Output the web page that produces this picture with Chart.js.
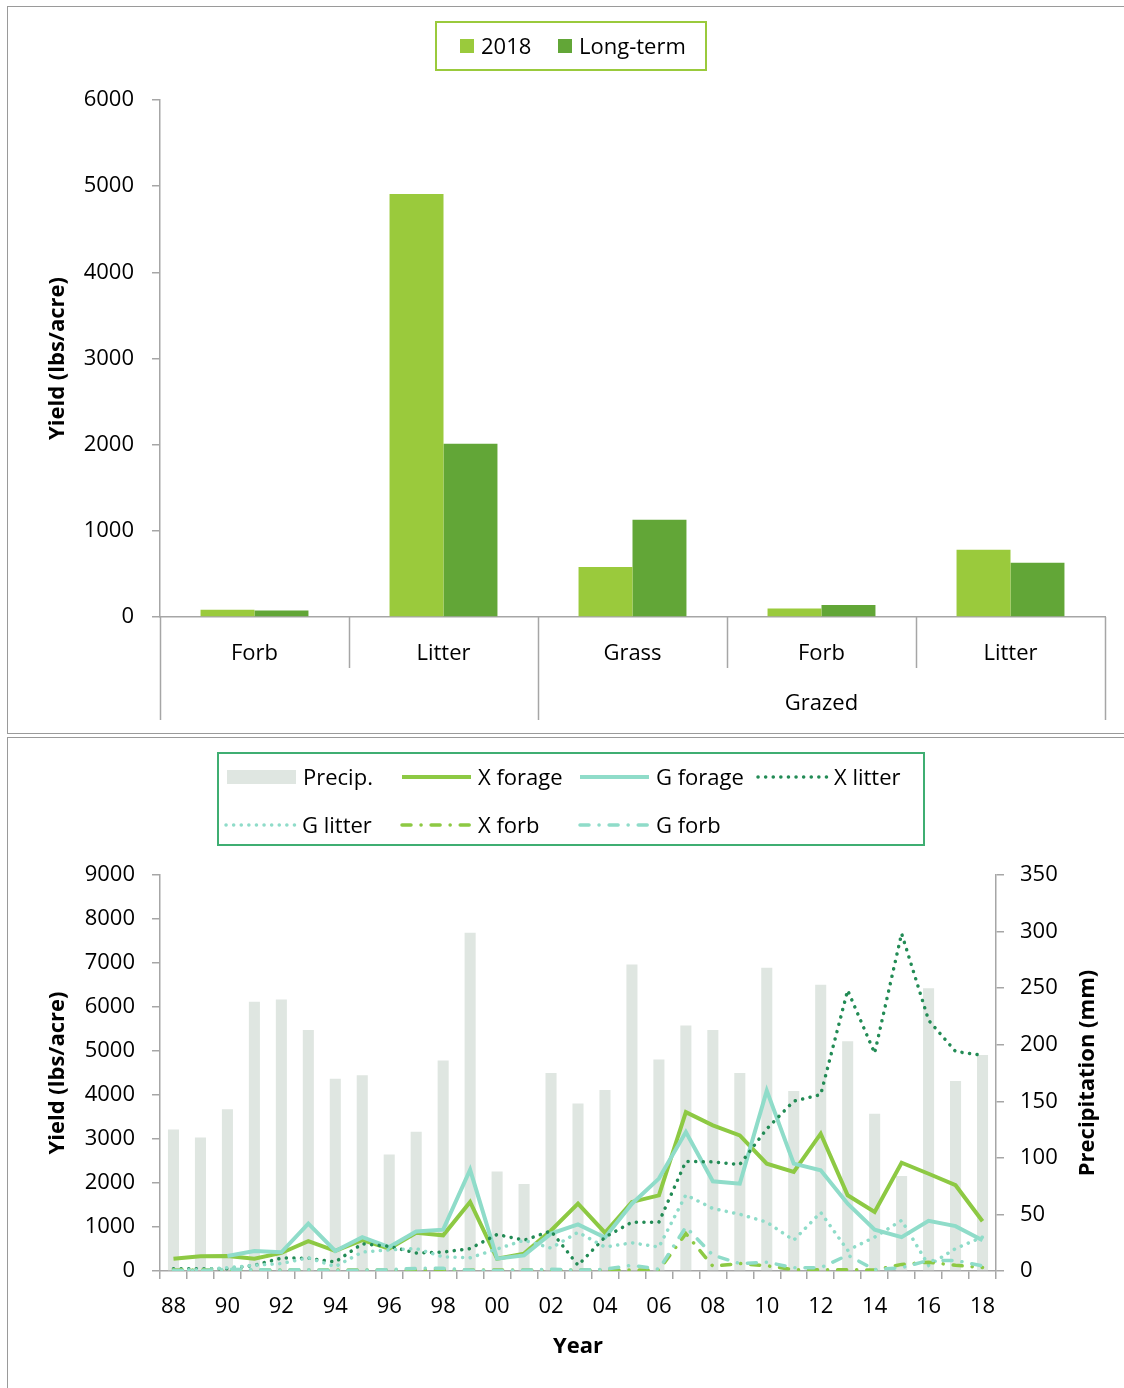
<!DOCTYPE html>
<html>
<head>
<meta charset="utf-8">
<script src="https://cdn.jsdelivr.net/npm/chart.js@4.4.0/dist/chart.umd.min.js"></script>
<style>
  body { margin: 0; background: #fff; width: 1124px; height: 1388px; overflow: hidden; position: relative; }
  canvas { position: absolute; left: 0; }
  #c1 { top: 0; }
  #c2 { top: 736px; }
  .frame { position: absolute; left: 7px; width: 1130px; border: 1px solid #9a9a9a; }
  #f1 { top: 6px; height: 726px; }
  #f2 { top: 737px; height: 700px; }
</style>
</head>
<body>
<div class="frame" id="f1"></div>
<div class="frame" id="f2"></div>
<canvas id="c1" width="1124" height="734"></canvas>
<canvas id="c2" width="1124" height="652"></canvas>
<script>
// top chart: yield by class
var categories = ['Forb', 'Litter', 'Grass', 'Forb', 'Litter'];
var groups = ['', '', 'Grazed', 'Grazed', 'Grazed'];
var yield2018 = [85, 4910, 580, 100, 780];
var yieldLongTerm = [75, 2010, 1130, 140, 630];

// bottom chart: yearly series
var years = ['88','89','90','91','92','93','94','95','96','97','98','99','00','01','02','03',
             '04','05','06','07','08','09','10','11','12','13','14','15','16','17','18'];
var precip = [125, 118, 143, 238, 240, 213, 170, 173, 103, 123, 186, 299, 88, 77, 175, 148,
              160, 271, 187, 217, 213, 175, 268, 159, 253, 203, 139, 84, 250, 168, 191];
var xForage = [280, 333, 340, 280, 410, 680, 455, 700, 510, 870, 810, 1570, 280, 395, 920, 1530,
               870, 1570, 1720, 3610, 3310, 3080, 2440, 2250, 3120, 1720, 1340, 2460, 2210, 1950, 1130];
var gForage = [null, null, 340, 455, 425, 1075, 455, 770, 545, 900, 940, 2300, 280, 355, 850, 1060,
               760, 1530, 2100, 3160, 2040, 1985, 4100, 2440, 2290, 1530, 940, 770, 1140, 1020, 700];
var xLitter = [50, 50, 50, 130, 295, 290, 205, 620, 560, 410, 430, 510, 830, 700, 910, 130,
               770, 1110, 1110, 2490, 2480, 2420, 3230, 3860, 4010, 6380, 4950, 7670, 5700, 4990, 4900];
var gLitter = [30, 30, 75, 130, 170, 300, 100, 430, 480, 510, 320, 300, 500, 700, 520, 880,
               545, 640, 545, 1730, 1420, 1290, 1110, 700, 1330, 470, 770, 1150, 130, 510, 770];
var xForb = [20, 20, 20, 20, 20, 20, 20, 20, 20, 20, 20, 20, 20, 20, 20, 20,
             20, 20, 20, 850, 110, 170, 120, 30, 30, 30, 20, 150, 200, 130, 80];
var gForb = [10, 10, 40, 30, 20, 30, 10, 20, 30, 60, 60, 20, 10, 20, 40, 20,
             40, 130, 40, 1000, 360, 170, 200, 75, 75, 360, 30, 75, 240, 240, 115];

Chart.defaults.font.family = "'Open Sans', sans-serif";
Chart.defaults.font.size = 22;
Chart.defaults.color = '#000';

var axisGrey = '#a6a6a6';
var plainNumber = function (v) { return String(v); };

// legend drawn inside a framed box, item slots given in options
var boxLegend = {
  id: 'boxLegend',
  afterDraw: function (chart, args, o) {
    var ctx = chart.ctx;
    ctx.save();
    ctx.strokeStyle = o.border;
    ctx.lineWidth = 2;
    ctx.strokeRect(o.x, o.y, o.w, o.h);
    ctx.font = "22px 'Open Sans', sans-serif";
    ctx.textBaseline = 'middle';
    ctx.fillStyle = '#000';
    chart.data.datasets.forEach(function (ds, i) {
      var s = o.slots[i];
      var isBar = (ds.type || chart.config.type) === 'bar';
      if (isBar) {
        ctx.fillStyle = ds.backgroundColor;
        ctx.fillRect(s[0], s[1] - o.sh / 2, o.sw, o.sh);
      } else {
        ctx.strokeStyle = ds.borderColor;
        ctx.lineWidth = ds.borderWidth;
        ctx.lineCap = ds.borderCapStyle || 'butt';
        ctx.setLineDash(ds.borderDash || []);
        ctx.beginPath();
        ctx.moveTo(s[0], s[1]);
        ctx.lineTo(s[0] + o.sw, s[1]);
        ctx.stroke();
        ctx.setLineDash([]);
      }
      ctx.fillStyle = '#000';
      ctx.fillText(ds.label, s[0] + o.sw + o.gap, s[1] + 2);
    });
    ctx.restore();
  }
};

// second level of the category axis (group separators and names)
var groupAxis = {
  id: 'groupAxis',
  afterDraw: function (chart, args, o) {
    if (!o.groups) return;
    var ctx = chart.ctx;
    var xs = chart.scales.x;
    var n = o.groups.length;
    var w = (xs.right - xs.left) / n;
    var base = chart.chartArea.bottom;
    ctx.save();
    ctx.strokeStyle = axisGrey;
    ctx.lineWidth = 1.5;
    for (var i = 0; i <= n; i++) {
      var x = Math.round(xs.left + i * w) + 0.5;
      var edge = i === 0 || i === n || o.groups[i] !== o.groups[i - 1];
      ctx.beginPath();
      ctx.moveTo(x, base);
      ctx.lineTo(x, edge ? o.longTo : o.shortTo);
      ctx.stroke();
    }
    ctx.font = "22px 'Open Sans', sans-serif";
    ctx.textAlign = 'center';
    ctx.textBaseline = 'middle';
    ctx.fillStyle = '#000';
    var start = 0;
    for (var j = 1; j <= n; j++) {
      if (j === n || o.groups[j] !== o.groups[start]) {
        if (o.groups[start]) {
          ctx.fillText(o.groups[start], xs.left + (start + j) / 2 * w, o.labelY);
        }
        start = j;
      }
    }
    ctx.restore();
  }
};

// right axis title reading bottom to top
var rightTitle = {
  id: 'rightTitle',
  afterDraw: function (chart, args, o) {
    if (!o.text) return;
    var ctx = chart.ctx;
    var a = chart.chartArea;
    ctx.save();
    ctx.translate(o.x, (a.top + a.bottom) / 2);
    ctx.rotate(-Math.PI / 2);
    ctx.font = "bold 22px 'Open Sans', sans-serif";
    ctx.textAlign = 'center';
    ctx.textBaseline = 'middle';
    ctx.fillStyle = '#000';
    ctx.fillText(o.text, 0, 0);
    ctx.restore();
  }
};

new Chart(document.getElementById('c1'), {
  type: 'bar',
  data: {
    labels: categories,
    datasets: [
      { label: '2018', data: yield2018, backgroundColor: '#9aca3c', categoryPercentage: 0.571, barPercentage: 1 },
      { label: 'Long-term', data: yieldLongTerm, backgroundColor: '#62a637', categoryPercentage: 0.571, barPercentage: 1 }
    ]
  },
  options: {
    responsive: false,
    animation: false,
    layout: { padding: { top: 100, right: 19, left: 0, bottom: 0 } },
    plugins: {
      legend: { display: false },
      tooltip: { enabled: false },
      boxLegend: { x: 436, y: 22, w: 270, h: 48, border: '#9aca3c', sw: 14, sh: 14, gap: 7,
                   slots: [[460, 46], [558, 46]] },
      groupAxis: { groups: groups, shortTo: 668, longTo: 720, labelY: 704 }
    },
    scales: {
      x: {
        grid: { display: false, drawTicks: false },
        border: { color: axisGrey, width: 1.5 },
        ticks: { padding: 24 },
        afterFit: function (s) { s.height = 117; }
      },
      y: {
        min: 0, max: 6000,
        ticks: { stepSize: 1000, padding: 18, callback: plainNumber },
        grid: { drawOnChartArea: false, tickLength: 8, color: axisGrey, lineWidth: 1.5 },
        border: { color: axisGrey, width: 1.5 },
        title: { display: true, text: 'Yield (lbs/acre)', font: { weight: 'bold' }, padding: { top: 45, bottom: 0 } },
        afterFit: function (s) { s.width = 160; }
      }
    }
  },
  plugins: [boxLegend, groupAxis]
});

var dotted = [0.1, 7.5];
var dashDot = [9, 10, 0.1, 10];

new Chart(document.getElementById('c2'), {
  type: 'bar',
  data: {
    labels: years,
    datasets: [
      { type: 'bar', label: 'Precip.', data: precip, yAxisID: 'y1', backgroundColor: '#dfe6e1',
        barPercentage: 0.41, categoryPercentage: 1, order: 10 },
      { type: 'line', label: 'X forage', data: xForage, borderColor: '#8dc943', borderWidth: 4,
        pointRadius: 0, tension: 0, order: 6 },
      { type: 'line', label: 'G forage', data: gForage, borderColor: '#8fdcc9', borderWidth: 4,
        pointRadius: 0, tension: 0, order: 5 },
      { type: 'line', label: 'X litter', data: xLitter, borderColor: '#228b55', borderWidth: 3.5,
        borderDash: dotted, borderCapStyle: 'round', pointRadius: 0, tension: 0, order: 4 },
      { type: 'line', label: 'G litter', data: gLitter, borderColor: '#8fdcc9', borderWidth: 3.5,
        borderDash: dotted, borderCapStyle: 'round', pointRadius: 0, tension: 0, order: 3 },
      { type: 'line', label: 'X forb', data: xForb, borderColor: '#8dc943', borderWidth: 3.5,
        borderDash: dashDot, borderCapStyle: 'round', pointRadius: 0, tension: 0, order: 2 },
      { type: 'line', label: 'G forb', data: gForb, borderColor: '#8fdcc9', borderWidth: 3.5,
        borderDash: dashDot, borderCapStyle: 'round', pointRadius: 0, tension: 0, order: 1 }
    ]
  },
  options: {
    responsive: false,
    animation: false,
    layout: { padding: { top: 139, right: 0, left: 0, bottom: 0 } },
    plugins: {
      legend: { display: false },
      tooltip: { enabled: false },
      boxLegend: { x: 218, y: 17, w: 706, h: 92, border: '#3fae72', sw: 69, sh: 14, gap: 7,
                   slots: [[227, 41], [402, 41], [580, 41], [758, 41], [226, 89], [402, 89], [580, 89]] },
      rightTitle: { text: 'Precipitation (mm)', x: 1088 }
    },
    scales: {
      x: {
        offset: true,
        grid: { drawOnChartArea: false, offset: true, tickLength: 8, color: axisGrey, lineWidth: 1.5 },
        border: { color: axisGrey, width: 1.5 },
        ticks: {
          autoSkip: false, maxRotation: 0, padding: 15,
          callback: function (v, i) { return i % 2 === 0 ? years[i] : ''; }
        },
        title: { display: true, text: 'Year', font: { weight: 'bold' }, padding: { top: 0, bottom: 28 } },
        afterFit: function (s) { s.height = 117; }
      },
      y: {
        position: 'left',
        min: 0, max: 9000,
        ticks: { stepSize: 1000, padding: 17, callback: plainNumber },
        grid: { drawOnChartArea: false, tickLength: 8, color: axisGrey, lineWidth: 1.5 },
        border: { color: axisGrey, width: 1.5 },
        title: { display: true, text: 'Yield (lbs/acre)', font: { weight: 'bold' }, padding: { top: 45, bottom: 0 } },
        afterFit: function (s) { s.width = 160; }
      },
      y1: {
        position: 'right',
        min: 0, max: 350,
        ticks: { stepSize: 50, padding: 16, callback: plainNumber },
        grid: { drawOnChartArea: false, tickLength: 8, color: axisGrey, lineWidth: 1.5 },
        border: { color: axisGrey, width: 1.5 },
        afterFit: function (s) { s.width = 128; }
      }
    }
  },
  plugins: [boxLegend, rightTitle]
});
</script>
</body>
</html>
